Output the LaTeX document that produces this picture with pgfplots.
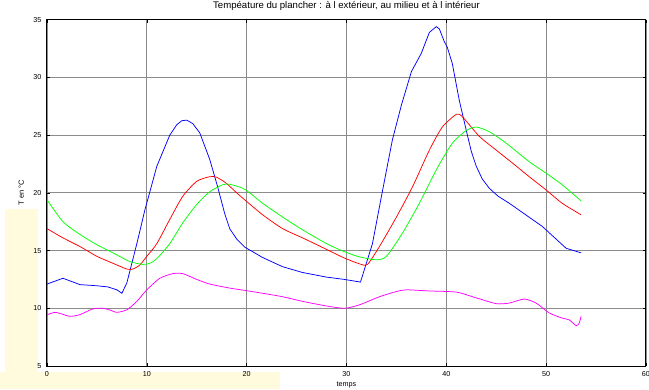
\documentclass[border=0pt]{standalone}
\usepackage{pgfplots}
\pgfplotsset{compat=1.18}
\usepackage{fontspec}
\setmainfont{Liberation Sans}
\definecolor{bgy}{RGB}{255,251,220}
\definecolor{gridg}{RGB}{140,140,140}
\definecolor{mblue}{RGB}{0,0,255}
\definecolor{mred}{RGB}{255,0,0}
\definecolor{mgreen}{RGB}{0,255,0}
\definecolor{mmag}{RGB}{255,0,255}
\begin{document}
\begin{tikzpicture}
\fill[bgy] (-42pt,-23pt) rectangle (-9pt,157pt);
\fill[bgy] (-47pt,-23pt) rectangle (233pt,-6pt);
\begin{axis}[
  scale only axis,
  width=599pt, height=346.3pt,
  xmin=0, xmax=60, ymin=5, ymax=35,
  xtick={0,10,...,60}, ytick={5,10,...,35},
  grid=major,
  major grid style={gridg, line width=0.8pt},
  axis line style={line width=1pt},
  tick align=inside,
  major tick length=3pt,
  tick style={black, line width=0.6pt},
  /pgf/number format/assume math mode=true,
  tick label style={font=\fontsize{7.2}{8}\selectfont},
  xticklabel style={anchor=base, yshift=-10.7pt},
  yticklabel style={xshift=-2pt},
  title={Tempéature du plancher : à l extérieur, au milieu et à l intérieur},
  title style={font=\fontsize{9.6}{11}\selectfont, at={(axis description cs:0.5,1)}, anchor=base, yshift=5.2pt},
  xlabel={temps},
  xlabel style={font=\fontsize{7.2}{9}\selectfont, at={(axis description cs:0.5,0)}, anchor=base, yshift=-20.5pt},
  ylabel={T en °C},
  ylabel style={font=\fontsize{7.5}{9}\selectfont, at={(axis description cs:-0.0384,0.5)}, anchor=base},
  every axis plot/.append style={line width=0.75pt},
]
\addplot[mblue] coordinates {
(0,12.1) (1.6,12.6) (3.3,12.05) (5,11.95) (6.1,11.85) (7,11.6) (7.5,11.3) (8,12.2) (9,15.6) (9.8,18.5) (11,22.3) (12.3,25.0) (13,25.9) (13.5,26.25) (14,26.3) (14.6,26.0) (15.3,25.2) (16.3,22.9) (17.1,20.5) (17.8,18.2) (18.3,16.9) (19,16.0) (19.8,15.3) (21.6,14.4) (23.6,13.6) (25.6,13.1) (28,12.7) (29.8,12.5) (31.4,12.27) (32.6,15.6) (33.5,19.7) (34.6,24.6) (35.5,27.6) (36.5,30.5) (37.5,32.1) (38.3,33.9) (39,34.4) (39.3,34.2) (39.8,33.1) (40.1,32.6) (40.6,31.2) (41.3,28.0) (42,25.4) (42.5,23.6) (43,22.3) (43.6,21.2) (44.3,20.4) (45.2,19.7) (46.3,19.1) (49.6,17.1) (52,15.2) (53.5,14.8)
};
\addplot[mred, smooth, tension=0.4] coordinates {
(0,16.9) (1.6,16.1) (3.3,15.35) (5,14.5) (6.6,13.9) (8,13.4) (8.6,13.4) (9.3,13.75) (10,14.5) (11,15.6) (12.3,17.7) (13.6,19.7) (15,21.0) (16.3,21.4) (17,21.35) (18,20.8) (19,20.0) (19.8,19.4) (21.6,18.1) (23.6,16.9) (25.6,16.1) (28,15.1) (29.8,14.35) (31.3,13.85) (32.1,13.8) (33.3,15.35) (35,17.9) (36.6,20.5) (38.3,23.7) (39.6,25.7) (41,26.8) (41.6,26.6) (43.3,24.9) (45,23.7) (46.6,22.6) (48.3,21.4) (50,20.25) (51.6,19.1) (53.5,18.1)
};
\addplot[mgreen, smooth, tension=0.4] coordinates {
(0,19.4) (1.6,17.5) (3.3,16.4) (5,15.5) (6.6,14.8) (8.3,14.05) (9.6,13.8) (10.3,13.9) (11,14.3) (12.3,15.6) (13.6,17.4) (15,19.0) (16.3,20.1) (17.6,20.7) (18.3,20.75) (19.6,20.4) (20.3,20.0) (21.6,19.1) (23.6,17.9) (25.6,16.8) (28,15.6) (29.8,14.9) (31.3,14.45) (33,14.2) (34,14.5) (35.6,16.5) (37.3,19.1) (39,22.0) (40.6,24.3) (42,25.4) (43,25.7) (44.3,25.3) (46,24.3) (48.3,22.7) (50,21.7) (51.6,20.7) (53.5,19.3)
};
\addplot[mmag, smooth, tension=0.4] coordinates {
(0,9.44) (0.8,9.65) (1.5,9.5) (2.3,9.3) (3.3,9.45) (4.6,9.95) (5.6,10.0) (6.3,9.85) (7,9.65) (8,9.87) (9,10.6) (10,11.6) (11.3,12.6) (12.6,13.0) (13.6,13.0) (15,12.5) (16.3,12.1) (18.3,11.75) (19.8,11.55) (21.6,11.3) (23.6,11.0) (25.6,10.6) (28,10.2) (29.8,10.0) (31.3,10.3) (33.3,11.0) (35,11.45) (36,11.6) (38.3,11.5) (41,11.4) (43,10.9) (45,10.4) (46.3,10.45) (47.8,10.8) (49,10.45) (50.3,9.6) (51.6,9.15) (52.3,9.0) (53,8.5) (53.3,8.7) (53.5,9.3)
};
\end{axis}
\pgfresetboundingbox
\useasboundingbox (-47pt,-23pt) rectangle (602pt,366pt);
\end{tikzpicture}
\end{document}
